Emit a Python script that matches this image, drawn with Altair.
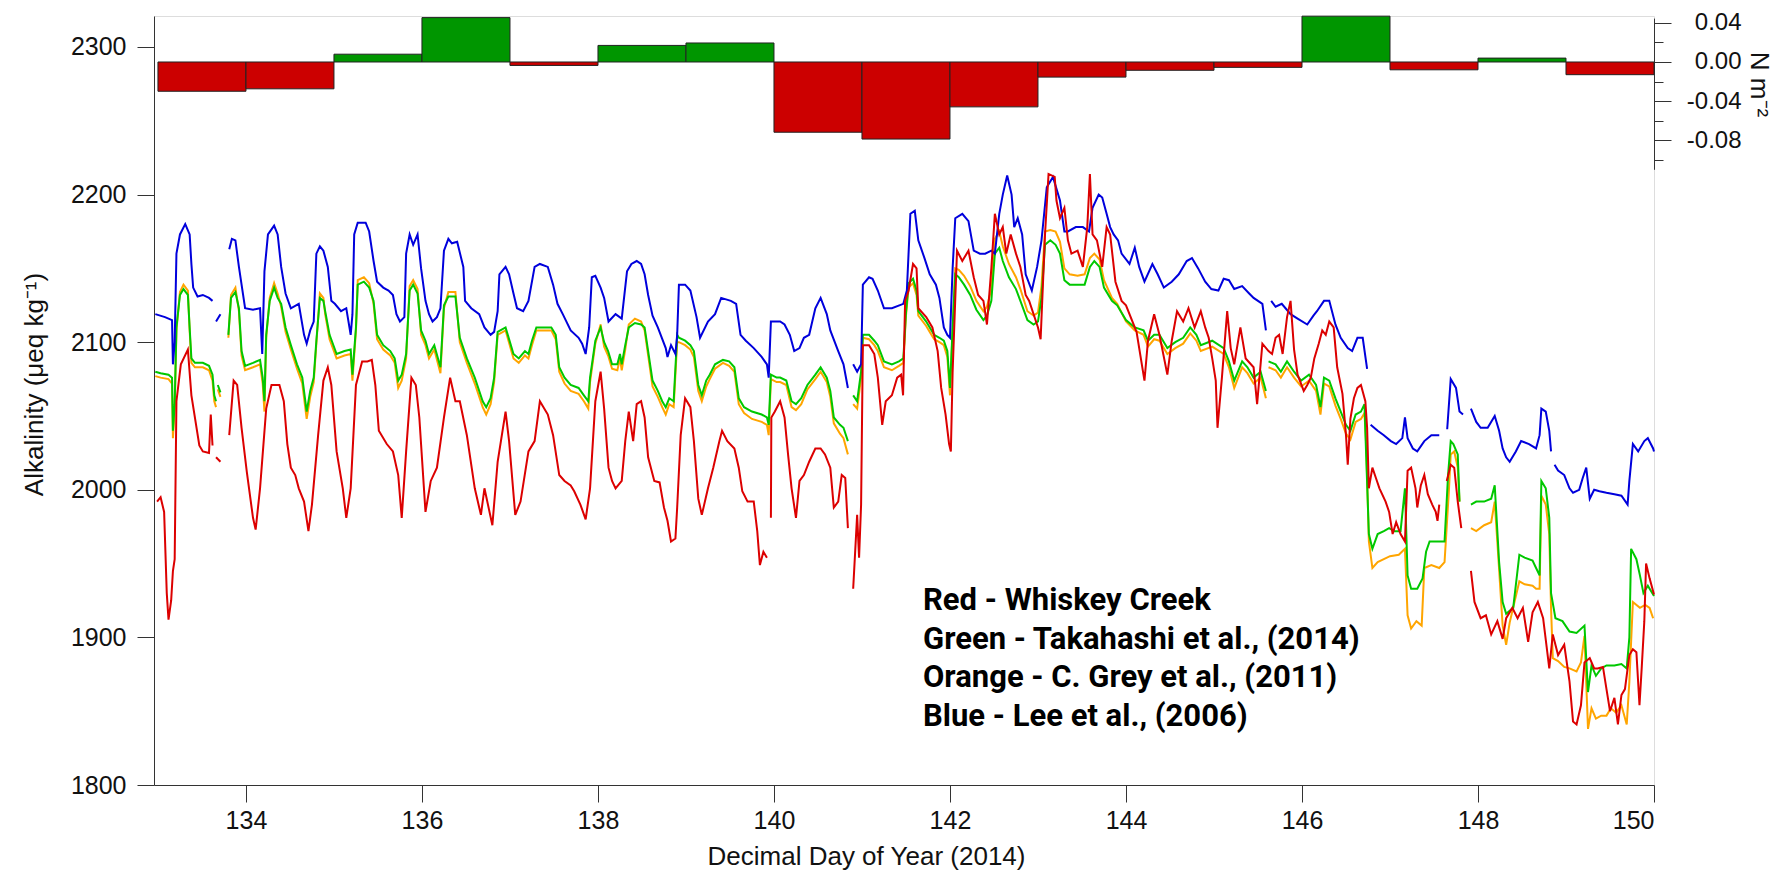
import altair as alt
import pandas as pd

# ---------------- data ----------------
bar_start = [133, 134, 135, 136, 137, 138, 139, 140, 141, 142, 143, 144, 145, 146, 147, 148, 149]
bar_flux = [-0.030, -0.0275, 0.008, 0.0455, -0.0035, 0.017, 0.0195, -0.072, -0.079, -0.046,
            -0.0155, -0.0085, -0.0055, 0.047, -0.008, 0.004, -0.013]

red_pts = [
    (132.99, 1992), (133.03, 1995), (133.07, 1985), (133.1, 1930), (133.12, 1912), (133.15, 1925),
    (133.17, 1945), (133.19, 1953), (133.21, 2060), (133.26, 2085), (133.34, 2095), (133.38, 2064),
    (133.47, 2030), (133.51, 2026), (133.58, 2025), (133.6, 2051), (133.62, 2030), (133.64, None),
    (133.66, 2022), (133.71, 2019), (133.75, None), (133.81, 2037), (133.86, 2074), (133.9, 2071),
    (133.95, 2042), (134.01, 2012), (134.08, 1981), (134.11, 1973), (134.16, 2001), (134.23, 2055),
    (134.29, 2071), (134.38, 2071), (134.43, 2060), (134.47, 2031), (134.51, 2015), (134.56, 2010),
    (134.6, 2001), (134.66, 1992), (134.71, 1972), (134.75, 1990), (134.82, 2037), (134.88, 2074),
    (134.93, 2083), (134.97, 2071), (135.03, 2026), (135.1, 2001), (135.14, 1981), (135.19, 2001),
    (135.25, 2071), (135.32, 2087), (135.38, 2087), (135.43, 2088), (135.47, 2071), (135.51, 2040),
    (135.6, 2031), (135.67, 2026), (135.73, 2010), (135.77, 1981), (135.82, 2026), (135.88, 2076),
    (135.93, 2071), (135.97, 2049), (136.04, 1985), (136.1, 2006), (136.17, 2015), (136.25, 2049),
    (136.32, 2076), (136.38, 2060), (136.43, 2060), (136.51, 2037), (136.6, 2001), (136.67, 1983),
    (136.71, 2001), (136.8, 1976), (136.86, 2019), (136.95, 2053), (136.99, 2033), (137.06, 1983),
    (137.12, 1992), (137.21, 2026), (137.28, 2033), (137.34, 2060), (137.43, 2051), (137.49, 2037),
    (137.56, 2010), (137.62, 2006), (137.69, 2003), (137.73, 1999), (137.8, 1990), (137.86, 1980),
    (137.91, 2001), (137.97, 2060), (138.03, 2080), (138.07, 2055), (138.12, 2015), (138.16, 2006),
    (138.2, 2001), (138.27, 2006), (138.31, 2033), (138.35, 2053), (138.4, 2033), (138.44, 2058),
    (138.49, 2060), (138.53, 2049), (138.57, 2022), (138.64, 2006), (138.7, 2005), (138.75, 1988),
    (138.79, 1979), (138.83, 1965), (138.88, 1967), (138.9, 1988), (138.94, 2037), (138.99, 2062),
    (139.05, 2056), (139.09, 2033), (139.14, 1994), (139.18, 1983), (139.25, 2001), (139.31, 2015),
    (139.38, 2033), (139.41, 2040), (139.47, 2033), (139.55, 2028), (139.6, 2015), (139.64, 1999),
    (139.7, 1992), (139.77, 1992), (139.81, 1972), (139.84, 1949), (139.88, 1958), (139.92, 1954),
    (139.94, None), (139.965, 1981), (139.97, 2049), (140.01, 2053), (140.07, 2060), (140.12, 2049),
    (140.16, 2024), (140.2, 2001), (140.25, 1981), (140.29, 2006), (140.34, 2010), (140.4, 2019),
    (140.47, 2028), (140.53, 2028), (140.58, 2024), (140.64, 2015), (140.68, 1988), (140.73, 1992),
    (140.77, 2010), (140.81, 2008), (140.84, 1974), (140.87, None), (140.9, 1933), (140.945, 1983),
    (140.967, 1954), (140.99, 1990), (141.01, 2098), (141.08, 2098), (141.14, 2092), (141.18, 2076),
    (141.23, 2044), (141.27, 2060), (141.34, 2064), (141.4, 2076), (141.445, 2078), (141.467, 2064),
    (141.49, 2128), (141.53, 2135), (141.58, 2153), (141.62, 2150), (141.64, 2123), (141.73, 2117),
    (141.8, 2110), (141.86, 2094), (141.9, 2069), (141.95, 2051), (141.99, 2031), (142.01, 2026),
    (142.03, 2080), (142.08, 2162), (142.14, 2155), (142.21, 2162), (142.27, 2144), (142.32, 2132),
    (142.38, 2128), (142.42, 2112), (142.47, 2150), (142.51, 2187), (142.56, 2173), (142.6, 2178),
    (142.64, 2160), (142.69, 2173), (142.75, 2160), (142.8, 2151), (142.86, 2132), (142.9, 2128),
    (143.0, 2110), (143.03, 2102), (143.08, 2173), (143.12, 2214), (143.19, 2212), (143.21, 2196),
    (143.25, 2184), (143.3, 2191), (143.34, 2169), (143.38, 2160), (143.45, 2162), (143.51, 2151),
    (143.56, 2178), (143.59, 2214), (143.62, 2173), (143.67, 2169), (143.73, 2151), (143.78, 2178),
    (143.82, 2173), (143.88, 2141), (143.95, 2128), (144.0, 2125), (144.12, 2107), (144.21, 2074),
    (144.25, 2101), (144.32, 2119), (144.38, 2105), (144.47, 2078), (144.52, 2101), (144.58, 2121),
    (144.65, 2114), (144.71, 2123), (144.78, 2110), (144.85, 2121), (144.9, 2110), (144.94, 2103),
    (144.98, 2089), (145.02, 2074), (145.04, 2042), (145.09, 2076), (145.15, 2121), (145.19, 2096),
    (145.23, 2085), (145.3, 2110), (145.36, 2089), (145.45, 2083), (145.49, 2058), (145.55, 2099),
    (145.62, 2094), (145.66, 2092), (145.7, 2103), (145.74, 2105), (145.78, 2092), (145.83, 2117),
    (145.87, 2128), (145.91, 2095), (145.95, 2078), (146.02, 2067), (146.06, 2071), (146.1, 2076),
    (146.14, 2089), (146.19, 2099), (146.23, 2108), (146.27, 2105), (146.31, 2114), (146.36, 2110),
    (146.4, 2083), (146.46, 2065), (146.5, 2037), (146.52, 2017), (146.55, 2048), (146.59, 2062),
    (146.63, 2069), (146.67, 2071), (146.72, 2060), (146.74, 2042), (146.76, 2001), (146.8, 2015),
    (146.84, 2008), (146.88, 2001), (146.95, 1992), (146.99, 1985), (147.03, 1970), (147.07, 1978),
    (147.12, 1970), (147.17, 1965), (147.2, 2013), (147.24, 2015), (147.29, 2001), (147.31, 1988),
    (147.35, 2003), (147.39, 2010), (147.43, 1997), (147.48, 1990), (147.52, 1985), (147.54, 1979),
    (147.56, 1990), (147.6, None), (147.645, 2006), (147.69, 2017), (147.73, 2015), (147.77, 1992),
    (147.81, 1974), (147.86, None), (147.92, 1945), (147.96, 1924), (148.03, 1913), (148.09, 1915),
    (148.15, 1902), (148.22, 1911), (148.28, 1899), (148.32, 1913), (148.39, 1920), (148.45, 1913),
    (148.51, 1920), (148.57, 1897), (148.62, 1917), (148.68, 1924), (148.74, 1913), (148.81, 1879),
    (148.85, 1902), (148.91, 1888), (148.98, 1895), (149.04, 1870), (149.08, 1843), (149.12, 1841),
    (149.17, 1854), (149.21, 1883), (149.27, 1886), (149.32, 1879), (149.36, 1879), (149.42, 1880),
    (149.46, 1865), (149.5, 1850), (149.55, 1859), (149.59, 1841), (149.63, 1861), (149.67, 1865),
    (149.72, 1888), (149.76, 1892), (149.8, 1890), (149.835, 1854), (149.86, 1879), (149.89, 1911),
    (149.91, 1950), (149.95, 1940), (150.0, 1929),
]

green_pts = [
    (132.97, 2080), (133.03, 2079), (133.12, 2078), (133.16, 2076), (133.17, 2040), (133.19, 2058),
    (133.21, 2110), (133.25, 2132), (133.29, 2136), (133.34, 2132), (133.36, 2110), (133.38, 2089),
    (133.42, 2086), (133.51, 2086), (133.58, 2084), (133.62, 2078), (133.64, 2064), (133.66, 2060),
    (133.67, None), (133.68, 2071), (133.71, 2066), (133.75, None), (133.8, 2105), (133.83, 2130),
    (133.88, 2134), (133.92, 2123), (133.95, 2094), (133.99, 2084), (134.08, 2086), (134.16, 2088),
    (134.19, 2076), (134.21, 2060), (134.23, 2105), (134.27, 2128), (134.32, 2137), (134.36, 2130),
    (134.4, 2126), (134.45, 2110), (134.51, 2098), (134.58, 2085), (134.64, 2076), (134.69, 2053),
    (134.73, 2067), (134.77, 2076), (134.8, 2101), (134.84, 2130), (134.88, 2128), (134.9, 2121),
    (134.95, 2105), (135.03, 2092), (135.12, 2094), (135.19, 2095), (135.21, 2078), (135.25, 2110),
    (135.27, 2139), (135.34, 2141), (135.4, 2137), (135.45, 2128), (135.49, 2105), (135.56, 2098),
    (135.64, 2094), (135.69, 2089), (135.73, 2074), (135.77, 2078), (135.82, 2092), (135.86, 2135),
    (135.9, 2139), (135.95, 2133), (135.99, 2108), (136.04, 2101), (136.08, 2092), (136.14, 2098),
    (136.21, 2083), (136.25, 2125), (136.3, 2131), (136.38, 2131), (136.43, 2103), (136.51, 2089),
    (136.6, 2076), (136.69, 2060), (136.73, 2056), (136.78, 2062), (136.82, 2076), (136.86, 2107),
    (136.95, 2110), (137.04, 2092), (137.1, 2089), (137.17, 2094), (137.21, 2092), (137.25, 2101),
    (137.3, 2110), (137.38, 2110), (137.47, 2110), (137.52, 2105), (137.56, 2083), (137.62, 2076),
    (137.69, 2071), (137.78, 2069), (137.84, 2064), (137.89, 2060), (137.91, 2076), (137.97, 2101),
    (138.03, 2110), (138.07, 2100), (138.115, 2094), (138.16, 2085), (138.22, 2085), (138.25, 2092),
    (138.27, 2085), (138.31, 2098), (138.35, 2110), (138.42, 2113), (138.49, 2112), (138.53, 2110),
    (138.57, 2094), (138.62, 2074), (138.68, 2067), (138.73, 2060), (138.77, 2056), (138.81, 2062),
    (138.86, 2060), (138.9, 2105), (138.92, 2103), (138.99, 2101), (139.05, 2098), (139.09, 2094),
    (139.14, 2071), (139.18, 2064), (139.23, 2074), (139.27, 2078), (139.33, 2085), (139.42, 2088),
    (139.49, 2087), (139.55, 2083), (139.6, 2062), (139.66, 2056), (139.75, 2053), (139.86, 2051),
    (139.92, 2049), (139.94, 2044), (139.965, 2078), (140.03, 2076), (140.07, 2076), (140.14, 2074),
    (140.2, 2060), (140.25, 2058), (140.31, 2062), (140.38, 2071), (140.47, 2078), (140.53, 2083),
    (140.6, 2076), (140.64, 2067), (140.68, 2049), (140.75, 2044), (140.79, 2042), (140.84, 2033),
    (140.86, None), (140.9, 2064), (140.945, 2060), (140.99, 2080), (141.01, 2105), (141.08, 2105),
    (141.14, 2101), (141.18, 2098), (141.25, 2087), (141.34, 2085), (141.42, 2087), (141.47, 2089),
    (141.5, 2120), (141.53, 2140), (141.58, 2143), (141.62, 2135), (141.64, 2121), (141.73, 2114),
    (141.77, 2110), (141.82, 2105), (141.88, 2103), (141.93, 2101), (141.97, 2094), (142.0, 2069),
    (142.03, 2110), (142.06, 2146), (142.1, 2144), (142.16, 2139), (142.23, 2132), (142.3, 2122),
    (142.38, 2115), (142.42, 2118), (142.47, 2128), (142.51, 2160), (142.56, 2164), (142.6, 2155),
    (142.67, 2144), (142.75, 2136), (142.8, 2128), (142.88, 2115), (142.95, 2112), (143.0, 2114),
    (143.04, 2130), (143.08, 2166), (143.14, 2169), (143.2, 2166), (143.25, 2160), (143.3, 2142),
    (143.36, 2139), (143.45, 2139), (143.53, 2139), (143.59, 2151), (143.64, 2155), (143.7, 2151),
    (143.75, 2137), (143.84, 2128), (143.9, 2125), (143.95, 2120), (144.0, 2115), (144.1, 2110),
    (144.2, 2108), (144.25, 2101), (144.32, 2105), (144.38, 2105), (144.47, 2096), (144.56, 2100),
    (144.65, 2103), (144.73, 2110), (144.8, 2105), (144.85, 2098), (144.98, 2101), (145.11, 2096),
    (145.17, 2087), (145.23, 2074), (145.32, 2087), (145.38, 2083), (145.45, 2076), (145.53, 2080),
    (145.59, 2067), (145.6, None), (145.62, 2087), (145.7, 2085), (145.76, 2080), (145.83, 2087),
    (145.91, 2080), (145.99, 2074), (146.08, 2078), (146.16, 2071), (146.21, 2056), (146.25, 2076),
    (146.31, 2074), (146.38, 2062), (146.44, 2053), (146.5, 2044), (146.55, 2040), (146.61, 2051),
    (146.67, 2053), (146.71, 2058), (146.73, 2022), (146.76, 1970), (146.8, 1960), (146.86, 1970),
    (146.93, 1972), (146.99, 1974), (147.05, 1972), (147.12, 1972), (147.17, 2001), (147.2, 1942),
    (147.24, 1933), (147.31, 1933), (147.37, 1940), (147.41, 1958), (147.45, 1965), (147.56, 1965),
    (147.62, 1965), (147.66, 2010), (147.69, 2033), (147.72, 2031), (147.77, 2024), (147.79, 1992),
    (147.82, None), (147.92, 1990), (147.98, 1992), (148.07, 1992), (148.15, 1994), (148.19, 2003),
    (148.24, 1951), (148.28, 1924), (148.32, 1916), (148.4, 1920), (148.47, 1956), (148.53, 1954),
    (148.62, 1952), (148.66, 1947), (148.7, 1942), (148.72, 2006), (148.77, 2001), (148.81, 1981),
    (148.83, 1930), (148.88, 1913), (148.96, 1911), (149.04, 1904), (149.12, 1903), (149.21, 1908),
    (149.25, 1863), (149.29, 1881), (149.34, 1874), (149.4, 1879), (149.46, 1881), (149.55, 1881),
    (149.63, 1882), (149.69, 1879), (149.72, 1900), (149.74, 1960), (149.8, 1953), (149.84, 1942),
    (149.88, 1930), (149.93, 1935), (150.0, 1928),
]

orange_pts = [
    (132.97, 2077), (133.03, 2076), (133.12, 2075), (133.16, 2072), (133.17, 2035), (133.19, 2055),
    (133.21, 2108), (133.25, 2134), (133.29, 2139), (133.34, 2135), (133.36, 2108), (133.38, 2086),
    (133.42, 2083), (133.51, 2083), (133.58, 2081), (133.62, 2074), (133.64, 2060), (133.66, 2056),
    (133.67, None), (133.68, 2068), (133.71, 2063), (133.75, None), (133.8, 2103), (133.83, 2132),
    (133.88, 2137), (133.92, 2121), (133.95, 2091), (133.99, 2081), (134.08, 2083), (134.16, 2085),
    (134.19, 2072), (134.21, 2053), (134.23, 2103), (134.27, 2130), (134.32, 2140), (134.36, 2133),
    (134.4, 2124), (134.45, 2107), (134.51, 2095), (134.58, 2082), (134.64, 2072), (134.69, 2048),
    (134.73, 2063), (134.77, 2073), (134.8, 2099), (134.84, 2133), (134.88, 2130), (134.9, 2119),
    (134.95, 2102), (135.03, 2089), (135.12, 2091), (135.19, 2092), (135.21, 2074), (135.25, 2108),
    (135.27, 2142), (135.34, 2144), (135.4, 2140), (135.45, 2126), (135.49, 2102), (135.56, 2095),
    (135.64, 2091), (135.69, 2086), (135.73, 2069), (135.77, 2074), (135.82, 2089), (135.86, 2138),
    (135.9, 2142), (135.95, 2136), (135.99, 2105), (136.04, 2098), (136.08, 2089), (136.14, 2095),
    (136.21, 2079), (136.25, 2123), (136.3, 2134), (136.38, 2134), (136.43, 2100), (136.51, 2086),
    (136.6, 2072), (136.69, 2056), (136.73, 2051), (136.78, 2058), (136.82, 2073), (136.86, 2105),
    (136.95, 2108), (137.04, 2089), (137.1, 2086), (137.17, 2091), (137.21, 2089), (137.25, 2098),
    (137.3, 2108), (137.38, 2108), (137.47, 2108), (137.52, 2102), (137.56, 2080), (137.62, 2072),
    (137.69, 2067), (137.78, 2065), (137.84, 2060), (137.89, 2055), (137.91, 2073), (137.97, 2099),
    (138.03, 2112), (138.07, 2097), (138.115, 2091), (138.16, 2082), (138.22, 2081), (138.25, 2089),
    (138.27, 2081), (138.31, 2095), (138.35, 2112), (138.42, 2116), (138.49, 2114), (138.53, 2108),
    (138.57, 2091), (138.62, 2070), (138.68, 2063), (138.73, 2056), (138.77, 2051), (138.81, 2058),
    (138.86, 2056), (138.9, 2100), (138.92, 2100), (138.99, 2098), (139.05, 2095), (139.09, 2090),
    (139.14, 2067), (139.18, 2060), (139.23, 2070), (139.27, 2075), (139.33, 2082), (139.42, 2086),
    (139.49, 2084), (139.55, 2080), (139.6, 2058), (139.66, 2052), (139.75, 2048), (139.86, 2046),
    (139.92, 2044), (139.94, 2037), (139.965, 2075), (140.03, 2073), (140.07, 2073), (140.14, 2071),
    (140.2, 2056), (140.25, 2054), (140.31, 2058), (140.38, 2068), (140.47, 2075), (140.53, 2080),
    (140.6, 2073), (140.64, 2063), (140.68, 2045), (140.75, 2038), (140.79, 2035), (140.84, 2024),
    (140.86, None), (140.9, 2058), (140.945, 2055), (140.99, 2076), (141.01, 2103), (141.08, 2102),
    (141.14, 2098), (141.18, 2094), (141.25, 2083), (141.34, 2081), (141.42, 2084), (141.47, 2086),
    (141.5, 2118), (141.53, 2137), (141.58, 2140), (141.62, 2132), (141.64, 2118), (141.73, 2111),
    (141.77, 2107), (141.82, 2102), (141.88, 2100), (141.93, 2098), (141.97, 2090), (142.0, 2064),
    (142.03, 2108), (142.06, 2150), (142.1, 2149), (142.16, 2145), (142.23, 2138), (142.3, 2128),
    (142.38, 2121), (142.42, 2124), (142.47, 2136), (142.51, 2170), (142.56, 2175), (142.6, 2165),
    (142.67, 2153), (142.75, 2144), (142.8, 2136), (142.88, 2121), (142.95, 2118), (143.0, 2120),
    (143.04, 2138), (143.08, 2175), (143.14, 2176), (143.2, 2175), (143.25, 2168), (143.3, 2150),
    (143.36, 2146), (143.45, 2145), (143.53, 2146), (143.59, 2157), (143.64, 2160), (143.7, 2156),
    (143.75, 2142), (143.84, 2130), (143.9, 2126), (143.95, 2120), (144.0, 2114), (144.1, 2108),
    (144.2, 2105), (144.25, 2097), (144.32, 2102), (144.38, 2101), (144.47, 2092), (144.56, 2096),
    (144.65, 2099), (144.73, 2106), (144.8, 2101), (144.85, 2094), (144.98, 2097), (145.11, 2092),
    (145.17, 2083), (145.23, 2069), (145.32, 2083), (145.38, 2079), (145.45, 2072), (145.53, 2076),
    (145.59, 2062), (145.6, None), (145.62, 2083), (145.7, 2081), (145.76, 2076), (145.83, 2083),
    (145.91, 2076), (145.99, 2070), (146.08, 2074), (146.16, 2067), (146.21, 2051), (146.25, 2072),
    (146.31, 2070), (146.38, 2057), (146.44, 2048), (146.5, 2038), (146.55, 2034), (146.61, 2046),
    (146.67, 2048), (146.71, 2052), (146.73, 2030), (146.76, 1965), (146.8, 1947), (146.86, 1951),
    (146.93, 1953), (147.0, 1955), (147.1, 1956), (147.17, 1960), (147.2, 1915), (147.24, 1906),
    (147.3, 1911), (147.36, 1908), (147.39, 1947), (147.47, 1949), (147.56, 1947), (147.62, 1951),
    (147.67, 2000), (147.69, 2024), (147.73, 2026), (147.77, 2015), (147.79, 1992), (147.82, None),
    (147.92, 1974), (147.98, 1972), (148.07, 1976), (148.15, 1978), (148.19, 1992), (148.24, 1946),
    (148.28, 1908), (148.32, 1895), (148.36, 1910), (148.47, 1938), (148.53, 1936), (148.62, 1935),
    (148.66, 1933), (148.7, 1933), (148.72, 1996), (148.77, 1990), (148.81, 1970), (148.83, 1920),
    (148.85, 1886), (148.91, 1884), (148.98, 1880), (149.04, 1879), (149.12, 1877), (149.17, 1883),
    (149.21, 1901), (149.25, 1838), (149.29, 1852), (149.34, 1845), (149.4, 1847), (149.46, 1847),
    (149.51, 1852), (149.57, 1849), (149.63, 1854), (149.69, 1841), (149.72, 1870), (149.76, 1924),
    (149.84, 1920), (149.9, 1922), (149.95, 1920), (149.99, 1913),
]

blue_pts = [
    (132.97, 2119), (133.08, 2117), (133.16, 2115), (133.17, 2085), (133.19, 2100), (133.21, 2160),
    (133.25, 2173), (133.31, 2180), (133.36, 2173), (133.38, 2153), (133.4, 2137), (133.45, 2131),
    (133.51, 2132), (133.58, 2130), (133.62, 2128), (133.64, None), (133.66, 2114), (133.71, 2119),
    (133.75, None), (133.81, 2163), (133.84, 2170), (133.88, 2169), (133.92, 2151), (133.99, 2123),
    (134.08, 2122), (134.16, 2123), (134.185, 2092), (134.21, 2148), (134.25, 2173), (134.32, 2179),
    (134.36, 2173), (134.4, 2151), (134.45, 2133), (134.51, 2123), (134.6, 2126), (134.66, 2105),
    (134.69, 2099), (134.73, 2108), (134.77, 2114), (134.8, 2160), (134.84, 2165), (134.88, 2162),
    (134.93, 2151), (134.97, 2128), (135.01, 2126), (135.08, 2121), (135.14, 2123), (135.19, 2105),
    (135.21, 2119), (135.23, 2173), (135.27, 2181), (135.36, 2181), (135.4, 2175), (135.45, 2155),
    (135.49, 2141), (135.56, 2137), (135.62, 2135), (135.67, 2132), (135.71, 2119), (135.75, 2114),
    (135.8, 2117), (135.82, 2160), (135.86, 2173), (135.9, 2166), (135.95, 2173), (135.99, 2150),
    (136.04, 2128), (136.08, 2119), (136.12, 2114), (136.17, 2117), (136.21, 2123), (136.25, 2162),
    (136.3, 2170), (136.34, 2167), (136.4, 2168), (136.47, 2151), (136.49, 2128), (136.56, 2123),
    (136.65, 2119), (136.71, 2110), (136.78, 2105), (136.82, 2107), (136.86, 2121), (136.88, 2146),
    (136.95, 2151), (136.99, 2146), (137.04, 2133), (137.08, 2123), (137.15, 2121), (137.21, 2128),
    (137.28, 2151), (137.34, 2153), (137.43, 2151), (137.49, 2139), (137.54, 2126), (137.6, 2119),
    (137.69, 2108), (137.78, 2103), (137.82, 2099), (137.86, 2092), (137.9, 2110), (137.93, 2144),
    (137.97, 2145), (138.03, 2137), (138.07, 2130), (138.12, 2114), (138.2, 2119), (138.27, 2116),
    (138.33, 2148), (138.38, 2153), (138.44, 2155), (138.49, 2153), (138.53, 2146), (138.57, 2132),
    (138.62, 2118), (138.68, 2110), (138.77, 2096), (138.79, 2090), (138.83, 2098), (138.88, 2092),
    (138.9, 2105), (138.92, 2139), (138.99, 2139), (139.05, 2135), (139.12, 2117), (139.16, 2103),
    (139.25, 2114), (139.33, 2119), (139.4, 2130), (139.51, 2128), (139.57, 2126), (139.62, 2105),
    (139.68, 2101), (139.77, 2096), (139.86, 2090), (139.92, 2085), (139.94, 2076), (139.965, 2114),
    (140.07, 2114), (140.12, 2112), (140.18, 2105), (140.23, 2094), (140.29, 2096), (140.34, 2103),
    (140.4, 2105), (140.47, 2123), (140.53, 2130), (140.6, 2119), (140.64, 2108), (140.73, 2094),
    (140.79, 2085), (140.84, 2069), (140.86, None), (140.9, 2085), (140.945, 2080), (140.99, 2085),
    (141.01, 2139), (141.08, 2144), (141.12, 2143), (141.18, 2135), (141.25, 2123), (141.34, 2123),
    (141.47, 2126), (141.51, 2135), (141.55, 2187), (141.6, 2189), (141.64, 2169), (141.71, 2157),
    (141.77, 2146), (141.84, 2139), (141.88, 2130), (141.93, 2110), (141.97, 2105), (142.0, 2103),
    (142.03, 2150), (142.06, 2184), (142.14, 2187), (142.21, 2182), (142.27, 2162), (142.34, 2160),
    (142.4, 2160), (142.47, 2162), (142.51, 2160), (142.56, 2187), (142.6, 2200), (142.65, 2213),
    (142.7, 2200), (142.73, 2178), (142.77, 2184), (142.82, 2173), (142.86, 2146), (142.93, 2135),
    (142.99, 2151), (143.04, 2169), (143.1, 2205), (143.17, 2212), (143.25, 2196), (143.3, 2175),
    (143.34, 2175), (143.43, 2178), (143.51, 2178), (143.58, 2175), (143.62, 2191), (143.69, 2200),
    (143.73, 2198), (143.78, 2187), (143.82, 2178), (143.86, 2173), (143.91, 2169), (143.95, 2160),
    (144.04, 2153), (144.1, 2164), (144.15, 2151), (144.21, 2141), (144.3, 2153), (144.36, 2146),
    (144.43, 2137), (144.52, 2141), (144.6, 2146), (144.69, 2155), (144.75, 2157), (144.82, 2150),
    (144.9, 2141), (144.97, 2136), (145.05, 2135), (145.11, 2143), (145.17, 2142), (145.23, 2136),
    (145.32, 2138), (145.4, 2133), (145.45, 2130), (145.55, 2126), (145.59, 2108), (145.61, None),
    (145.65, 2128), (145.7, 2124), (145.77, 2126), (145.87, 2119), (145.95, 2116), (146.06, 2112),
    (146.13, 2118), (146.17, 2121), (146.25, 2128), (146.31, 2128), (146.38, 2112), (146.44, 2103),
    (146.52, 2096), (146.57, 2094), (146.63, 2103), (146.69, 2103), (146.74, 2082), (146.76, None),
    (146.78, 2044), (146.86, 2040), (146.93, 2037), (147.01, 2033), (147.07, 2031), (147.14, 2035),
    (147.17, 2049), (147.2, 2035), (147.26, 2028), (147.31, 2026), (147.39, 2033), (147.47, 2037),
    (147.56, 2037), (147.6, None), (147.65, 2041), (147.69, 2075), (147.75, 2069), (147.79, 2053),
    (147.83, 2051), (147.86, None), (147.92, 2055), (147.98, 2046), (148.03, 2042), (148.11, 2042),
    (148.19, 2050), (148.24, 2040), (148.28, 2028), (148.32, 2022), (148.36, 2019), (148.43, 2026),
    (148.49, 2033), (148.58, 2031), (148.66, 2028), (148.7, 2037), (148.72, 2055), (148.77, 2053),
    (148.81, 2040), (148.83, 2026), (148.85, None), (148.87, 2017), (148.91, 2013), (148.98, 2010),
    (149.04, 2001), (149.08, 1998), (149.15, 2000), (149.19, 2008), (149.23, 2015), (149.27, 1994),
    (149.32, 2000), (149.38, 1999), (149.46, 1998), (149.55, 1997), (149.63, 1996), (149.7, 1990),
    (149.72, 2006), (149.76, 2031), (149.82, 2026), (149.89, 2033), (149.93, 2035), (149.99, 2028),
    (150.0, 2026),
]

legend_lines = [
    "Red - Whiskey Creek",
    "Green - Takahashi et al., (2014)",
    "Orange - C. Grey et al., (2011)",
    "Blue - Lee et al., (2006)",
]

x_ticks = [134, 136, 138, 140, 142, 144, 146, 148, 150]
y_ticks = [1800, 1900, 2000, 2100, 2200, 2300]
flux_ticks = [-0.10, -0.08, -0.06, -0.04, -0.02, 0.0, 0.02, 0.04]

# ---------------- build tables ----------------
def segments(name, pts):
    rows, seg = [], 0
    for d, v in pts:
        if v is None:
            seg += 1
            continue
        rows.append({"series": name, "seg": f"{name}-{seg}", "day": d, "alk": v})
    return pd.DataFrame(rows)

bars_df = pd.DataFrame({"start": bar_start, "flux": bar_flux})
bars_df["end"] = bars_df["start"] + 1
bars_df["base"] = 0.0

FONT = "Liberation Sans"
AX = "#333333"

x_scale = alt.Scale(domain=[132.955, 150.0], nice=False, zero=False)
x_axis = alt.Axis(
    values=x_ticks, format="d", grid=False, tickSize=17, tickColor=AX, domainColor=AX,
    labelFont=FONT, labelFontSize=25, labelColor="#111", labelPadding=6,
    title="Decimal Day of Year (2014)", titleFont=FONT, titleFontSize=26,
    titleFontWeight="normal", titleColor="#111", titleX=712, titleY=71,
    titleAlign="center", titleBaseline="middle",
)
y_axis = alt.Axis(
    orient="left", values=y_ticks, format="d", grid=False, tickSize=17, tickColor=AX,
    domainColor=AX, labelFont=FONT, labelFontSize=25, labelColor="#111", labelPadding=11,
    title="Alkalinity (μeq kg⁻¹)", titleFont=FONT, titleFontSize=26, titleFontWeight="normal",
    titleColor="#111", titleX=-120, titleY=368, titleAlign="center", titleBaseline="middle",
    titleAngle=-90,
)
y_scale = alt.Scale(domain=[1800, 2321], nice=False, zero=False)

minor_test = "abs(datum.value*100) % 4 > 0.5 && abs(datum.value*100) % 4 < 3.5"
flux_axis = alt.Axis(
    orient="right", values=flux_ticks, grid=False,
    tickSize={"condition": {"test": minor_test, "value": 9}, "value": 17},
    tickColor=AX, domainColor=AX,
    labelExpr=f"({minor_test}) ? '' : (datum.value < -0.001 ? '-' + format(abs(datum.value), '.2f') : format(datum.value, '.2f'))",
    labelFont=FONT, labelFontSize=24, labelColor="#111", labelAlign="right", labelPadding=70,
    title="N m⁻²", titleFont=FONT, titleFontSize=26, titleFontWeight="normal", titleColor="#111",
    titleAngle=90, titleX=104, titleY=68, titleAlign="center", titleBaseline="middle",
)

bars = alt.Chart(bars_df).mark_rect(stroke="#222", strokeWidth=1).encode(
    x=alt.X("start:Q", scale=x_scale, axis=x_axis),
    x2="end:Q",
    y=alt.Y("flux:Q", scale=alt.Scale(domain=[-0.11, 0.045], range=[153.3, 2.1], nice=False, zero=False),
            axis=flux_axis),
    y2="base:Q",
    color=alt.condition("datum.flux > 0", alt.value("#009600"), alt.value("#CC0000")),
)

def line_layer(name, pts, color):
    return alt.Chart(segments(name, pts)).mark_line(color=color, strokeWidth=2).encode(
        x=alt.X("day:Q", scale=x_scale, axis=x_axis),
        y=alt.Y("alk:Q", scale=y_scale, axis=y_axis),
        detail="seg:N",
        order="day:Q",
    )

lines = alt.layer(
    line_layer("orange", orange_pts, "#FFA500"),
    line_layer("green", green_pts, "#00C800"),
    line_layer("blue", blue_pts, "#0000DC"),
    line_layer("red", red_pts, "#DC0000"),
)

texts = [
    alt.Chart(pd.DataFrame({"t": [s]})).mark_text(
        align="left", baseline="alphabetic", font="Roboto", fontWeight="bold",
        fontSize=31, color="#000",
    ).encode(x=alt.value(769), y=alt.value(594 + i * 38.7), text="t:N")
    for i, s in enumerate(legend_lines)
]

chart = alt.layer(bars, lines, *texts).resolve_scale(y="independent").properties(
    width=1500, height=769,
    padding={"left": 146, "top": 8, "right": 120, "bottom": 86},
    autosize="none",
).configure_view(stroke=None).configure(background="white")

chart.save("out.html", embed_options={"renderer": "svg", "actions": False})
